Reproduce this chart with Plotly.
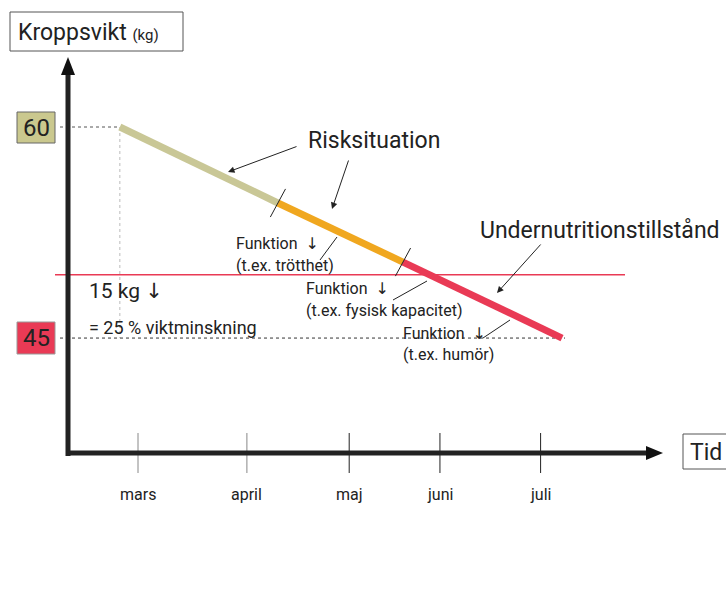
import plotly.graph_objects as go

# --- data -------------------------------------------------------------
month_names = ["mars", "april", "maj", "juni", "juli"]
month_pos = [0, 33, 64, 91.5, 122]            # time axis, days from start of March

phase_t = [-5.5, 42.4, 80.3, 128.5]           # start / phase breaks / end
phase_kg = [60, 54.6, 50.4, 45]               # body weight at those times
phase_colors = ["#c9c796", "#f0a71f", "#e93a55"]

weight_start = 60
weight_end = 45
threshold_kg = 49.5                            # undernutrition limit

# --- layout scale ----------------------------------------------------
W, H = 726, 600
X0_PX, PX_PER_DAY = 138, 3.3
Y60_PX, PX_PER_KG = 127, 14.07


def tx(px):
    return (px - X0_PX) / PX_PER_DAY


def ky(py):
    return 60 - (py - Y60_PX) / PX_PER_KG


FONT = "Roboto, Liberation Sans, sans-serif"
INK = "#222222"
DOWN = "<span style='font-family:DejaVu Sans'>↓</span>"

fig = go.Figure()

# weight trajectory, one coloured segment per phase
for i, c in enumerate(phase_colors):
    fig.add_trace(go.Scatter(
        x=phase_t[i:i + 2], y=phase_kg[i:i + 2], mode="lines",
        line=dict(color=c, width=7), hoverinfo="skip", showlegend=False))

shapes = []


def line(x0, y0, x1, y1, color=INK, width=1, dash=None):
    shapes.append(dict(type="line", xref="x", yref="y", x0=x0, y0=y0, x1=x1, y1=y1,
                       line=dict(color=color, width=width, dash=dash), layer="below"))


# reference lines
line(tx(60), weight_start, phase_t[0], weight_start, color="#555", width=1, dash="dot")
line(phase_t[0], weight_start, phase_t[0], weight_end, color="#bbb", width=1, dash="dot")
line(tx(60), weight_end, tx(565), weight_end, color="#333", width=1, dash="dot")
line(tx(55), threshold_kg, tx(625), threshold_kg, color="#e93a55", width=1.3)

# month ticks
tick_colors = ["#888", "#888", "#222", "#222", "#222"]
for p, c in zip(month_pos, tick_colors):
    line(p, ky(433), p, ky(473), color=c, width=1)

# axes
line(tx(68), ky(456), tx(68), ky(72), width=5)
line(tx(66), ky(453), tx(650), ky(453), width=5)
shapes.append(dict(type="path", xref="x", yref="y", fillcolor="#111", line=dict(width=0),
                   path=f"M {tx(68)} {ky(57)} L {tx(61)} {ky(75)} L {tx(75)} {ky(75)} Z"))
shapes.append(dict(type="path", xref="x", yref="y", fillcolor="#111", line=dict(width=0),
                   path=f"M {tx(663)} {ky(453)} L {tx(646)} {ky(446)} L {tx(646)} {ky(460)} Z"))

# phase break marks
for t, k in zip(phase_t[1:3], phase_kg[1:3]):
    shapes.append(dict(type="line", xref="x", yref="y", x0=t - 2.3, y0=k - 1.0,
                       x1=t + 2.3, y1=k + 1.0, line=dict(color=INK, width=1)))

# leader lines from the "Funktion" notes to the curve
for a, b in [((320, 260), (337, 237)), ((393, 300), (427, 281)), ((483, 338), (510, 320))]:
    shapes.append(dict(type="line", xref="x", yref="y", x0=tx(a[0]), y0=ky(a[1]),
                       x1=tx(b[0]), y1=ky(b[1]), line=dict(color=INK, width=1)))


# boxes
def box(x0, y0, x1, y1, fill="white", border="#555"):
    shapes.append(dict(type="rect", xref="x", yref="y", x0=tx(x0), y0=ky(y0), x1=tx(x1), y1=ky(y1),
                       fillcolor=fill, line=dict(color=border, width=1)))


box(10, 12, 183, 51)
box(683, 434, 740, 469)
box(17, 112, 55, 143, fill="#cac88e", border="#666")
box(17, 322, 55, 354, fill="#e93a55", border="#999")

annotations = []


def text(s, xpx, ypx, size, anchor="left"):
    annotations.append(dict(text=s, x=tx(xpx), y=ky(ypx), xref="x", yref="y", showarrow=False,
                            xanchor=anchor, yanchor="middle",
                            font=dict(family=FONT, size=size, color=INK)))


def arrow(xpx, ypx, fx, fy):
    annotations.append(dict(text="", x=tx(xpx), y=ky(ypx), ax=tx(fx), ay=ky(fy),
                            xref="x", yref="y", axref="x", ayref="y", showarrow=True,
                            arrowhead=2, arrowsize=1.3, arrowwidth=1, arrowcolor=INK))


text("Kroppsvikt <span style='font-size:15px'>(kg)</span>", 16, 32, 23)
text("Tid", 688, 452, 23)
text("60", 36, 128, 24, anchor="center")
text("45", 36, 338, 24, anchor="center")

for name, p in zip(month_names, month_pos):
    annotations.append(dict(text=name, x=p, y=ky(494), xref="x", yref="y", showarrow=False,
                            xanchor="center", yanchor="middle",
                            font=dict(family=FONT, size=16, color=INK)))

text("Risksituation", 306, 140, 23)
arrow(228, 172, 298, 146)
arrow(332, 209, 349, 159)

text("Undernutritionstillstånd", 478, 230, 23)
arrow(497, 293, 542, 243)

FUNK = f"Funktion&nbsp;&nbsp;{DOWN}"
text(FUNK, 234, 243, 16)
text("(t.ex. trötthet)", 234, 265, 16)
text(FUNK, 304, 288, 16)
text("(t.ex. fysisk kapacitet)", 304, 310, 16)
text(FUNK, 401, 333, 16)
text("(t.ex. humör)", 401, 354, 16)

text(f"15 kg {DOWN}", 87, 291, 21)
text("= 25 % viktminskning", 87, 327, 18)

fig.update_layout(
    width=W, height=H, margin=dict(l=0, r=0, t=0, b=0),
    paper_bgcolor="white", plot_bgcolor="white",
    xaxis=dict(range=[tx(0), tx(W)], visible=False, fixedrange=True),
    yaxis=dict(range=[ky(H), ky(0)], visible=False, fixedrange=True),
    shapes=shapes, annotations=annotations, showlegend=False,
)

fig.write_html("out.html")
